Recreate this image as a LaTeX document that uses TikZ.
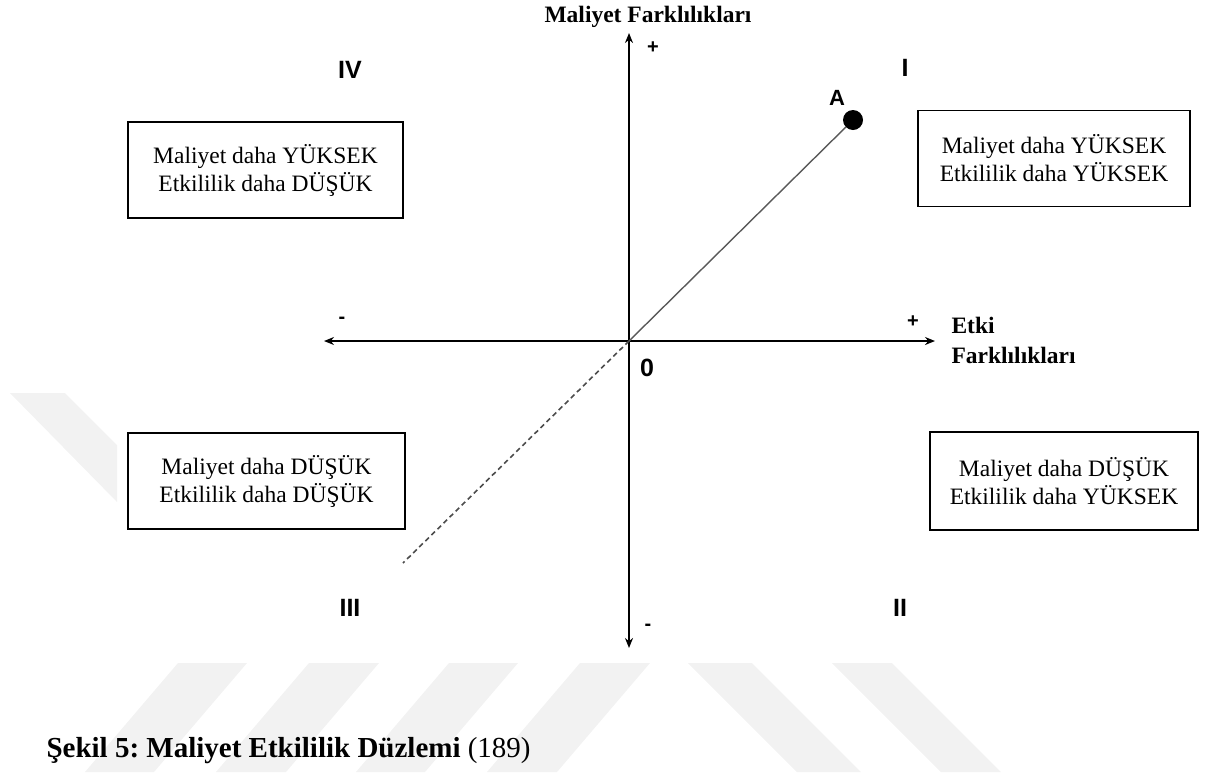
\documentclass[tikz,border=0pt]{standalone}
\usepackage{fontspec}
\setmainfont{Liberation Serif}
\setsansfont{Liberation Sans}
\frenchspacing
\usetikzlibrary{positioning, arrows.meta}
\tikzset{
>={Stealth[length=10pt, width=8pt]}, % small bold heads on the axes
axis/.style={<->, line width=2.2pt}, % both axes carry a head at each end
quad/.style={draw, line width=1.2pt, fill=white, minimum width=275pt, minimum height=96pt, align=center, font=\fontsize{23.5}{28}\selectfont}, % the four quadrant boxes
roman/.style={font=\sffamily\bfseries\fontsize{25}{25}\selectfont}, % quadrant numbers
sign/.style={font=\sffamily\bfseries\fontsize{20}{20}\selectfont}, % + and - at the axis ends
lbl/.style={font=\bfseries\fontsize{23.5}{28}\selectfont}, % axis titles
wmark/.style={fill=black!5}, % faint stripes behind the figure
}

\begin{document}
\begin{tikzpicture}[x=1pt, y=-1pt]
    \useasboundingbox (0,0) rectangle (1214,772);
    % stripes of the background
    \fill[wmark] (10,393) -- (65,393) -- (117,445) -- (117,502) -- cycle;
    \foreach \a/\b in {178/247, 309/379, 449/518, 580/650}
      \fill[wmark] (\a,663) -- (\b,663) -- ++(-93,109) -- ++(\a-\b,0) -- cycle;
    \foreach \a/\b in {688/752, 832/892}
      \fill[wmark] (\a,663) -- (\b,663) -- ++(109,109) -- ++(\a-\b,0) -- cycle;

    % axes
    \coordinate (o) at (629,341);
    \coordinate (xl) at (324,341);
    \coordinate (xr) at (935,341);
    \coordinate (yt) at (629,33);
    \coordinate (yb) at (629,648);
    \draw[axis] (xl) -- (xr);
    \draw[axis] (yb) -- (yt);

    \node[lbl, anchor=base] (ytitle) at (648,22) {Maliyet Farklılıkları};
    \node[lbl, anchor=base west] (etki) at (948,333) {Etki};
    \node[lbl, anchor=base west] (fark) at (948,363) {Farklılıkları};

    \node[sign] (yplus) at (653,48) {+};
    \node[sign] (yminus) at (648,627) {-};
    \node[sign] (xminus) at (342,320) {-};
    \node[sign] (xplus) at (913,322) {+};
    \node[roman] (zero) at (647,368) {0};

    % point A and the ray through it
    \node[circle, fill=black, inner sep=0pt, minimum size=20pt] (a) at (853,120) {};
    \node[sign, font=\sffamily\bfseries\fontsize{22}{22}\selectfont] (alabel) at (837,98) {A};
    \coordinate (d) at (403,563);
    \draw[black!65, line width=1.4pt] (o) -- (a);
    \draw[black!70, line width=1.6pt, dash pattern=on 5pt off 3.5pt] (o) -- (d);

    % quadrants
    \node[roman] (q4) at (350,70) {IV};
    \node[roman] (q1) at (905,68) {I};
    \node[roman] (q3) at (350,608) {III};
    \node[roman] (q2) at (900,608) {II};

    \node[quad] (b4) at (265.5,170) {Maliyet daha YÜKSEK\\Etkililik daha DÜŞÜK};
    \node[quad, minimum width=272pt] (b1) at (1054,158.5) {Maliyet daha YÜKSEK\\Etkililik daha YÜKSEK};
    \node[quad, minimum width=277pt] (b3) at (266.5,481) {Maliyet daha DÜŞÜK\\Etkililik daha DÜŞÜK};
    \node[quad, minimum width=268pt, minimum height=98pt] (b2) at (1064,481) {Maliyet daha DÜŞÜK\\Etkililik daha YÜKSEK};

    % caption
    \node[anchor=base west, font=\fontsize{29}{32}\selectfont] (cap) at (43,757) {\textbf{Şekil 5: Maliyet Etkililik Düzlemi} (189)};
  \end{tikzpicture}
\end{document}
